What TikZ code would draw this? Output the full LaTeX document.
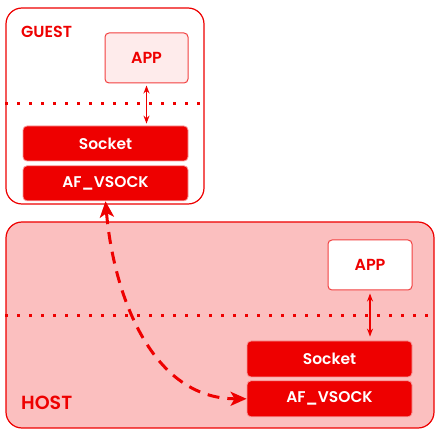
\documentclass[tikz,border=0pt]{standalone}
\usepackage{fontspec}
\setmainfont{Poppins}[BoldFont={* SemiBold}]
\usetikzlibrary{positioning, arrows.meta}
\definecolor{rhred}{HTML}{EE0000}
\tikzset{
layer/.style={draw=rhred, line width=1.2pt, rounded corners=16pt, inner sep=0pt}, % big guest/host frames
app/.style={draw=rhred!75, line width=1pt, rounded corners=4pt, minimum width=84pt, minimum height=50pt, text=rhred, font=\bfseries\fontsize{16}{18}\selectfont}, % application boxes
sock/.style={fill=rhred, draw=white!60!rhred, line width=0.8pt, rounded corners=4pt, minimum width=165pt, minimum height=35pt, text=white, font=\bfseries\fontsize{15.5}{18}\selectfont}, % socket stack boxes
title/.style={anchor=west, text=rhred, inner sep=0pt, font=\bfseries\fontsize{16}{18}\selectfont}, % layer names
border/.style={draw=rhred, line width=3pt, dash pattern=on 3pt off 9pt}, % dotted user/kernel split
call/.style={draw=rhred, line width=1.5pt, {Stealth[length=8pt, width=6pt]}-{Stealth[length=8pt, width=6pt]}}, % app <-> socket
vlink/.style={draw=rhred, line width=3pt, dash pattern=on 12pt off 8pt, {Stealth[length=16pt, width=14pt, inset=4pt]}-{Stealth[length=16pt, width=14pt, inset=4pt]}}, % vsock connection
}
\begin{document}
\begin{tikzpicture}[x=1pt, y=-1pt]
    \useasboundingbox (0,0) rectangle (448,433);
    % frames
    \node[layer, fill=white, minimum width=198pt, minimum height=196pt] (guest) at (105,106) {};
    \node[layer, fill=rhred!25, minimum width=428pt, minimum height=206pt] (host) at (220,325) {};
    \node[title] (guestname) at (21,32) {GUEST};
    \node[title, font=\bfseries\fontsize{19}{21}\selectfont] (hostname) at (21,403) {HOST};
    % guest side
    \node[app, fill=rhred!8, minimum width=83pt] (gapp) at (146.5,58) {APP};
    \node[sock] (gsock) at (105.5,143.5) {Socket};
    \node[sock, below=4pt of gsock] (gvsock) {AF\_VSOCK};
    % host side
    \node[app, fill=white] (happ) at (370,265) {APP};
    \node[sock, minimum height=36pt] (hsock) at (329.5,359) {Socket};
    \node[sock, minimum height=36pt, below=3pt of hsock] (hvsock) {AF\_VSOCK};
    % dotted splits
    \draw[border] (guest.west |- 0,104) -- (guest.east |- 0,104);
    \draw[border] (host.west |- 0,316) -- (host.east |- 0,316);
    % links
    \draw[call, shorten <=2pt, shorten >=2pt] (gapp.south) -- (gapp.south |- gsock.north);
    \draw[call, shorten <=3pt, shorten >=4pt] (happ.south) -- (happ.south |- hsock.north);
    \draw[vlink] (gvsock.south) to[out=-85, in=180] (hvsock.west);
\end{tikzpicture}
\end{document}
